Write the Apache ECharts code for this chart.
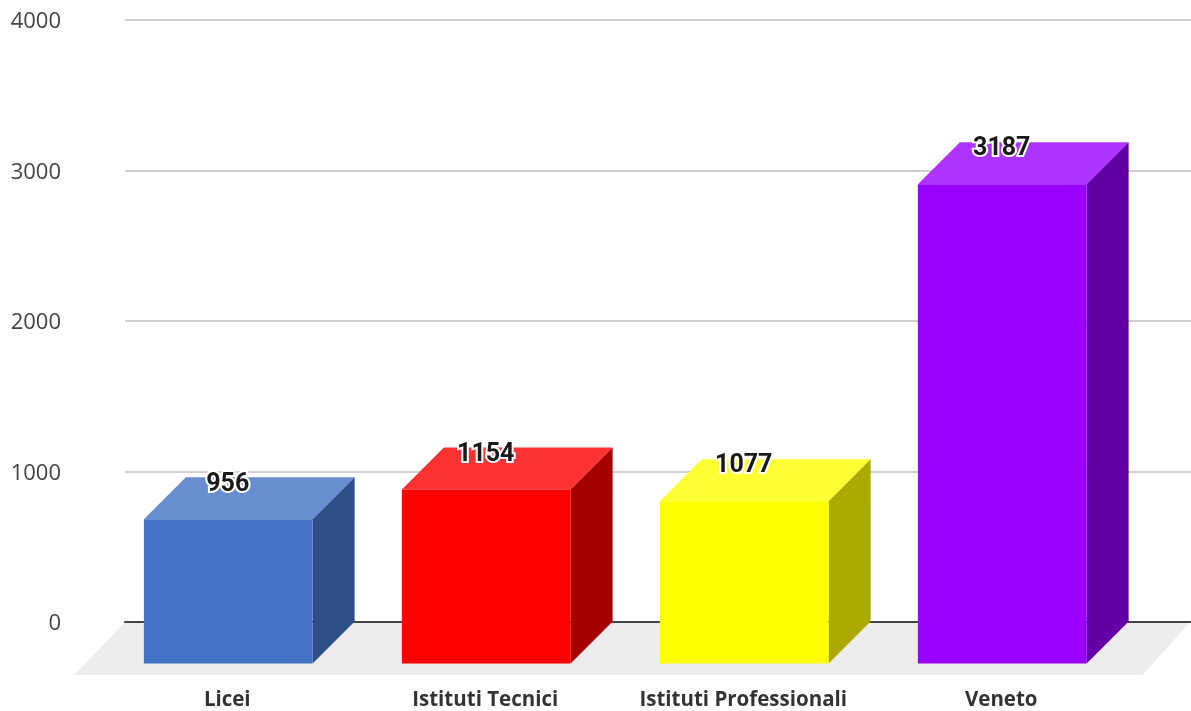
<!DOCTYPE html>
<html>
<head>
<meta charset="utf-8">
<style>html,body{margin:0;padding:0;background:#fff}#c{width:1191px;height:711px}</style>
<script src="https://cdn.jsdelivr.net/npm/echarts@6/dist/echarts.min.js"></script>
</head>
<body>
<div id="c"></div>
<script>
const categories = ['Licei', 'Istituti Tecnici', 'Istituti Professionali', 'Veneto'];
const values = [956, 1154, 1077, 3187];
const frontColors = ['#4472c4', '#ff0000', '#ffff00', '#9900ff'];
const topColors = ['#698ed0', '#ff3333', '#ffff33', '#ad33ff'];
const sideColors = ['#2d4e86', '#a60000', '#aaaa00', '#6200a6'];
const yTicks = { min: 0, max: 4000, interval: 1000 };

const DEPTH = 42;
const BAR_RATIO = 0.654;

const chart = echarts.init(document.getElementById('c'));

function renderFloor(params, api) {
  const cs = params.coordSys;
  const y0 = api.coord([0, 0])[1] + 1;
  const yF = y0 + 53;
  return {
    type: 'polygon',
    silent: true,
    shape: { points: [
      [cs.x + 27, y0],
      [cs.x + cs.width + 60, y0],
      [cs.x + cs.width + 12, yF],
      [cs.x - 24, yF]
    ] },
    style: { fill: '#ededed' }
  };
}

function renderBar(params, api) {
  const i = api.value(0);
  const v = api.value(1);
  const top = api.coord([i, v]);
  const base = api.coord([i, 0]);
  const w = api.size([1, 0])[0] * BAR_RATIO;
  const cx = top[0] + 1;
  const l = cx - w / 2, r = cx + w / 2;
  const yT = top[1] + DEPTH, yB = base[1] + DEPTH + 0.5;
  return {
    type: 'group',
    children: [
      { type: 'polygon', shape: { points: [[l, yT], [r, yT], [r + DEPTH, yT - DEPTH], [l + DEPTH, yT - DEPTH]] }, style: { fill: topColors[i] } },
      { type: 'polygon', shape: { points: [[r, yT], [r + DEPTH, yT - DEPTH], [r + DEPTH, yB - DEPTH], [r, yB]] }, style: { fill: sideColors[i] } },
      { type: 'rect', shape: { x: l, y: yT, width: r - l, height: yB - yT }, style: { fill: frontColors[i] } },
      { type: 'text', z2: 10, style: {
          text: String(v), x: cx - 0.5, y: top[1] + 7, align: 'center', verticalAlign: 'middle',
          font: 'bold 25px Roboto', fill: '#1a1a1a', stroke: '#ffffff', lineWidth: 4
      } }
    ]
  };
}

chart.setOption({
  animation: false,
  backgroundColor: '#ffffff',
  grid: [
    { left: 125, right: 0, top: 20, height: 602 },
    { left: 98.25, width: 1032, top: 20, height: 602 },
    { left: 125, right: 0, top: 22, height: 602 }
  ],
  xAxis: [
    { gridIndex: 0, type: 'value', min: 0, max: 1, axisLabel: { show: false }, axisTick: { show: false },
      splitLine: { show: false }, axisLine: { show: true, onZero: true, lineStyle: { color: '#444', width: 2 } }, z: 3 },
    { gridIndex: 1, type: 'category', data: categories, axisLine: { show: false }, axisTick: { show: false },
      axisLabel: { margin: 69, fontFamily: 'Open Sans', fontWeight: 'bold', fontSize: 20.5, color: '#333', interval: 0 } },
    { gridIndex: 2, type: 'value', min: 0, max: 1, show: false }
  ],
  yAxis: [
    { gridIndex: 0, type: 'value', min: yTicks.min, max: yTicks.max, interval: yTicks.interval,
      axisLine: { show: false }, axisTick: { show: false }, axisLabel: { show: false },
      splitLine: { show: true, lineStyle: { color: '#d0d0d0', width: 2 } } },
    { gridIndex: 1, type: 'value', min: yTicks.min, max: yTicks.max, interval: yTicks.interval, show: false },
    { gridIndex: 2, type: 'value', min: yTicks.min, max: yTicks.max, interval: yTicks.interval,
      axisLine: { show: false }, axisTick: { show: false }, splitLine: { show: false },
      axisLabel: { margin: 64, fontFamily: 'Open Sans', fontSize: 22, color: '#444', formatter: (v) => String(v) } }
  ],
  series: [
    { type: 'custom', xAxisIndex: 1, yAxisIndex: 1, z: 1, silent: true, clip: false, data: [[0, 0]], renderItem: renderFloor },
    { type: 'custom', xAxisIndex: 1, yAxisIndex: 1, z: 4, clip: false,
      encode: { x: 0, y: 1 },
      data: values.map((v, i) => [i, v]), renderItem: renderBar }
  ]
});
</script>
</body>
</html>
